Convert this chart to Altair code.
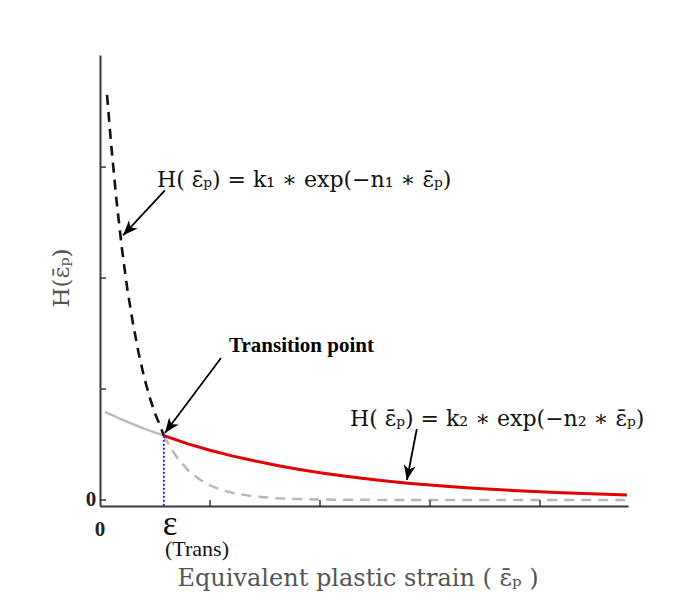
import altair as alt
import pandas as pd

# ---------------- data ----------------
X_DOMAIN = [0, 4.8]
Y_DOMAIN = [-0.054, 4.01]

# steep branch k1*exp(-n1*e) (black dashed, before transition)
k1_x = [0.064, 0.10, 0.15, 0.20, 0.25, 0.30, 0.35, 0.40, 0.45, 0.50, 0.55, 0.58]
k1_y = [3.65, 3.22, 2.70, 2.26, 1.89, 1.59, 1.33, 1.11, 0.93, 0.78, 0.66, 0.58]

# continuation of the steep branch (gray dashed)
k1c_x = [0.58, 0.65, 0.70, 0.80, 0.90, 1.00, 1.10, 1.20, 1.40, 1.60, 1.80, 2.00, 2.50, 3.00, 3.50, 4.00, 4.50, 4.78]
k1c_y = [0.58, 0.458, 0.383, 0.269, 0.189, 0.132, 0.093, 0.065, 0.032, 0.016, 0.008, 0.004, 0.001, 0.0, 0.0, 0.0, 0.0, 0.0]

# shallow branch before transition (gray solid)
k2g_x = [0.045, 0.20, 0.40, 0.58]
k2g_y = [0.795, 0.724, 0.643, 0.58]

# shallow branch k2*exp(-n2*e) after transition (red)
k2_x = [0.58, 0.80, 1.00, 1.20, 1.40, 1.60, 1.80, 2.00, 2.20, 2.40, 2.60, 2.80,
        3.00, 3.20, 3.40, 3.60, 3.80, 4.00, 4.20, 4.40, 4.60, 4.79]
k2_y = [0.58, 0.506, 0.448, 0.398, 0.353, 0.313, 0.277, 0.246, 0.218, 0.194, 0.172, 0.152,
        0.135, 0.120, 0.106, 0.094, 0.084, 0.074, 0.066, 0.058, 0.052, 0.046]

# transition point
trans_x = [0.58]
trans_y = [0.58]

# axis ticks
y_ticks = [0, 1, 2, 3]
x_ticks = [1, 2, 3, 4]

# arrows: start -> tip, head angle (deg, clockwise from up)
arrow_x1 = [0.59, 1.10, 2.88]
arrow_y1 = [2.79, 1.28, 0.64]
arrow_x2 = [0.21, 0.59, 2.79]
arrow_y2 = [2.385, 0.604, 0.18]
arrow_angle = [223, 217, 191]

# annotation texts
ann_text = [
    "H( ε̄ₚ) = k₁ ∗ exp(−n₁ ∗ ε̄ₚ)",
    "H( ε̄ₚ) = k₂ ∗ exp(−n₂ ∗ ε̄ₚ)",
]
ann_x = [0.518, 2.273]
ann_y = [2.82, 0.667]

trans_label = ["Transition point"]
trans_label_x = [1.173]
trans_label_y = [1.333]

# ---------------- chart ----------------
W, H = 528, 451
SERIF = "Liberation Serif"
MATH = "DejaVu Serif"
AX = "#3a3a3a"

xs = alt.Scale(domain=X_DOMAIN, nice=False, zero=False)
ys = alt.Scale(domain=Y_DOMAIN, nice=False, zero=False)
x_axis = alt.Axis(domain=True, domainColor=AX, domainWidth=2, ticks=False,
                  labels=False, grid=False, title=None)
y_axis = alt.Axis(domain=True, domainColor=AX, domainWidth=2, ticks=False,
                  labels=False, grid=False, title=None)


def XE(f="x"):
    return alt.X(f"{f}:Q", scale=xs, axis=x_axis)


def YE(f="y"):
    return alt.Y(f"{f}:Q", scale=ys, axis=y_axis)


def df(xv, yv):
    return pd.DataFrame({"x": xv, "y": yv})


gray_solid = alt.Chart(df(k2g_x, k2g_y)).mark_line(
    color="#bdbdbd", strokeWidth=2.5).encode(x=XE(), y=YE())

gray_dash = alt.Chart(df(k1c_x, k1c_y)).mark_line(
    color="#b8b8b8", strokeWidth=2.5, strokeDash=[10, 7]).encode(x=XE(), y=YE())

black_dash = alt.Chart(df(k1_x, k1_y)).mark_line(
    color="#111111", strokeWidth=2.6, strokeDash=[10, 7]).encode(x=XE(), y=YE())

red = alt.Chart(df(k2_x, k2_y)).mark_line(
    color="#e50000", strokeWidth=3).encode(x=XE(), y=YE())

blue = alt.Chart(pd.DataFrame({"x": trans_x, "y": trans_y, "y2": [Y_DOMAIN[0]]})).mark_rule(
    color="#1010ff", strokeWidth=1.8, strokeDash=[2, 2]).encode(
    x=XE(), y=YE(), y2="y2:Q")

ytick = alt.Chart(pd.DataFrame({"y": y_ticks})).mark_rule(
    color=AX, strokeWidth=1.5).encode(y=YE(), x=alt.value(0), x2=alt.value(6))

xtick = alt.Chart(pd.DataFrame({"x": x_ticks})).mark_rule(
    color=AX, strokeWidth=1.5).encode(x=XE(), y=alt.value(H), y2=alt.value(H - 6))

arrows_df = pd.DataFrame({"x": arrow_x1, "y": arrow_y1, "x2": arrow_x2, "y2": arrow_y2,
                          "angle": arrow_angle})
shafts = alt.Chart(arrows_df).mark_rule(color="#000000", strokeWidth=1.8).encode(
    x=XE(), y=YE(), x2="x2:Q", y2="y2:Q")

heads = alt.Chart(arrows_df).mark_point(
    shape="M0,0 L-0.4,1 L0,0.72 L0.4,1 Z", filled=True, size=900,
    color="#000000", opacity=1, strokeWidth=0).encode(
    x=XE("x2"), y=YE("y2"), angle=alt.Angle("angle:Q", scale=None))

formulas = alt.Chart(pd.DataFrame({"x": ann_x, "y": ann_y, "t": ann_text})).mark_text(
    font=MATH, fontSize=22, align="left", baseline="alphabetic", color="#111111").encode(
    x=XE(), y=YE(), text="t:N")

tp = alt.Chart(pd.DataFrame({"x": trans_label_x, "y": trans_label_y, "t": trans_label})).mark_text(
    font=SERIF, fontSize=21, fontWeight="bold", align="left", baseline="alphabetic",
    color="#000000").encode(x=XE(), y=YE(), text="t:N")

y0 = alt.Chart(pd.DataFrame({"y": [0], "t": ["0"]})).mark_text(
    font=SERIF, fontSize=21, fontWeight="bold", align="center", baseline="middle",
    color="#222222").encode(y=YE(), x=alt.value(-9), text="t:N")

x0 = alt.Chart(pd.DataFrame({"x": [0], "t": ["0"]})).mark_text(
    font=SERIF, fontSize=21, fontWeight="bold", align="center", baseline="middle",
    color="#222222").encode(x=XE(), y=alt.value(475), text="t:N")

eps = alt.Chart(pd.DataFrame({"t": ["ε"]})).mark_text(
    font=SERIF, fontSize=35, align="center", baseline="alphabetic",
    color="#111111").encode(x=alt.value(70), y=alt.value(480), text="t:N")

trans_sub = alt.Chart(pd.DataFrame({"t": ["(Trans)"]})).mark_text(
    font=SERIF, fontSize=22, align="left", baseline="alphabetic",
    color="#111111").encode(x=alt.value(65), y=alt.value(501), text="t:N")

x_title = alt.Chart(pd.DataFrame({"t": ["Equivalent plastic strain ( ε̄ₚ )"]})).mark_text(
    font=MATH, fontSize=24, align="center", baseline="alphabetic",
    color="#555555").encode(x=alt.value(258), y=alt.value(531), text="t:N")

y_title = alt.Chart(pd.DataFrame({"t": ["H(ε̄ₚ)"]})).mark_text(
    font=MATH, fontSize=23, align="center", baseline="middle", angle=270,
    color="#555555").encode(x=alt.value(-38), y=alt.value(223), text="t:N")

chart = alt.layer(
    gray_solid, gray_dash, black_dash, red, blue, ytick, xtick,
    shafts, heads, formulas, tp, y0, x0, eps, trans_sub, x_title, y_title
).properties(
    width=W, height=H,
    autosize=alt.AutoSizeParams(type="none"),
    padding={"left": 92, "top": 47, "right": 40, "bottom": 86},
    background="white",
).configure_view(stroke=None)

chart.save("out.html", embed_options={"renderer": "svg", "actions": False})
